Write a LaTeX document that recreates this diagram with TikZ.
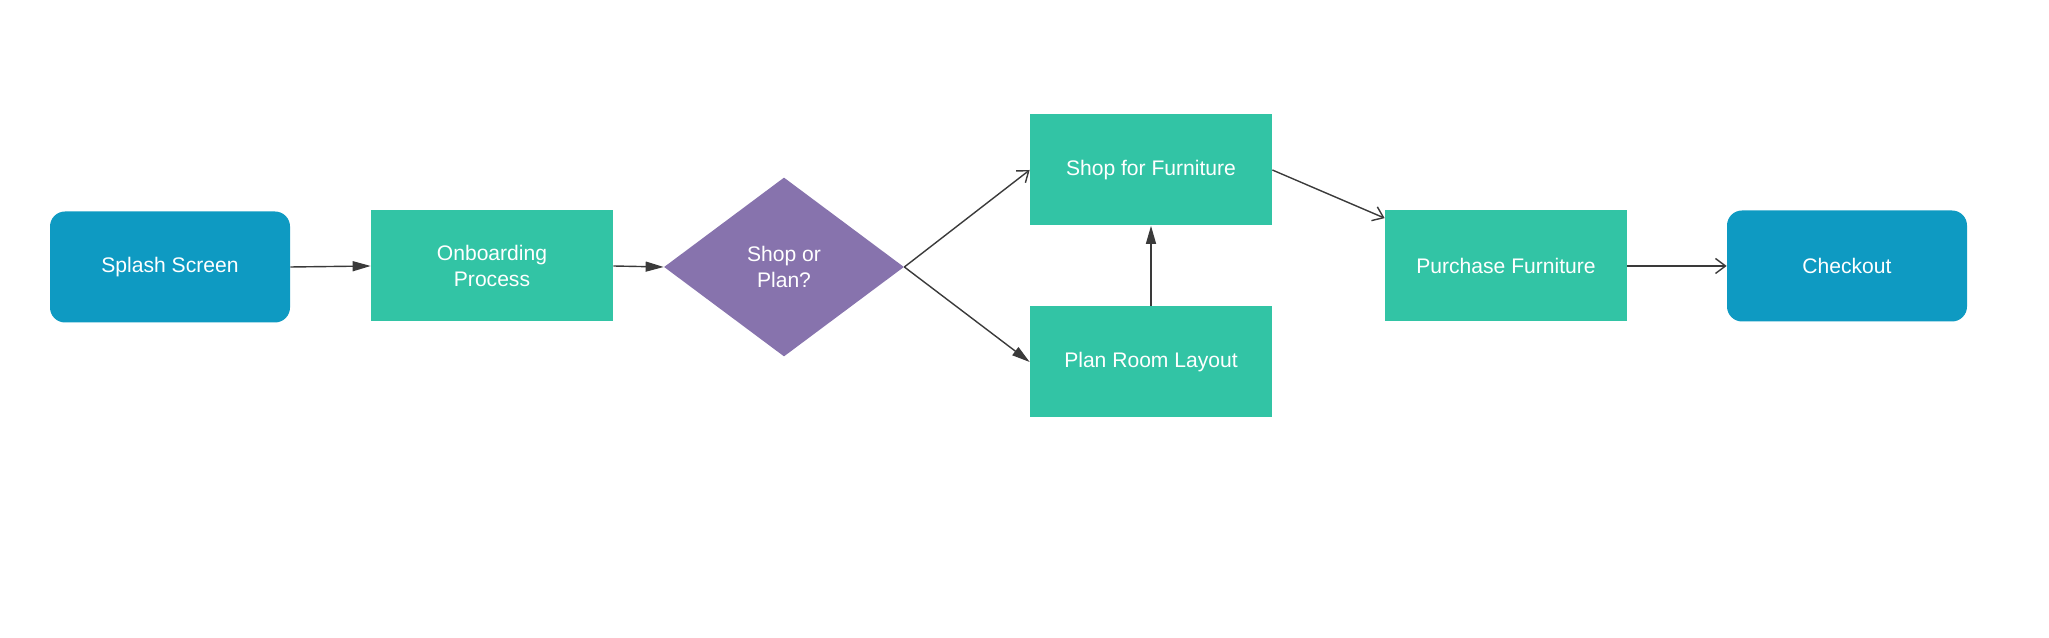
\documentclass[tikz,border=0pt]{standalone}
\usepackage{fontspec}
\setmainfont{Liberation Sans}
\usepackage{tikz}
\usetikzlibrary{shapes.geometric, arrows.meta}

\definecolor{screenblue}{HTML}{0E9AC2}
\definecolor{stepgreen}{HTML}{32C4A5}
\definecolor{choicepurple}{HTML}{8773AD}
\definecolor{linegray}{HTML}{3A3A3A}

\tikzset{
    box/.style={fill=stepgreen, text=white, align=center, minimum width=4.84cm,
        minimum height=2.22cm, inner sep=0pt, font=\fontsize{12}{14.5}\selectfont},
    screen/.style={box, fill=screenblue, rounded corners=0.3cm, minimum width=4.8cm},
    choice/.style={box, shape=diamond, fill=choicepurple, aspect=1.34,
        minimum width=4.8cm, minimum height=3.58cm},
    solidarrow/.style={draw=linegray, line width=0.8pt, -{Triangle[length=3.6mm, width=2mm]}},
    openarrow/.style={draw=linegray, line width=0.8pt, -{Straight Barb[length=2mm, width=3mm]}}
}

\begin{document}
\begin{tikzpicture}
    \useasboundingbox (0, 0) rectangle (40.98, 12.76);

    % Main row
    \node[screen] (splash) at (3.40, 7.42) {Splash Screen};
    \node[box] (onboard) at (9.84, 7.44) {Onboarding\\Process};
    \node[choice] (shopplan) at (15.68, 7.42) {Shop or\\Plan?};

    % Branches
    \node[box] (shop) at (23.02, 9.36) {Shop for Furniture};
    \node[box] (plan) at (23.02, 5.52) {Plan Room Layout};

    % End of the flow
    \node[box] (purchase) at (30.12, 7.44) {Purchase Furniture};
    \node[screen] (checkout) at (36.94, 7.44) {Checkout};

    % Connectors
    \draw[solidarrow] (splash.east) -- (onboard.west);
    \draw[solidarrow] (onboard.east) -- (shopplan.west);
    \draw[openarrow] (shopplan.east) -- (shop.west);
    \draw[solidarrow] (shopplan.east) -- (plan.west);
    \draw[solidarrow] (plan.north) -- (shop.south);
    \draw[openarrow] (shop.east) -- ([yshift=-0.16cm]purchase.north west);
    \draw[openarrow] (purchase.east) -- (checkout.west);
\end{tikzpicture}
\end{document}
